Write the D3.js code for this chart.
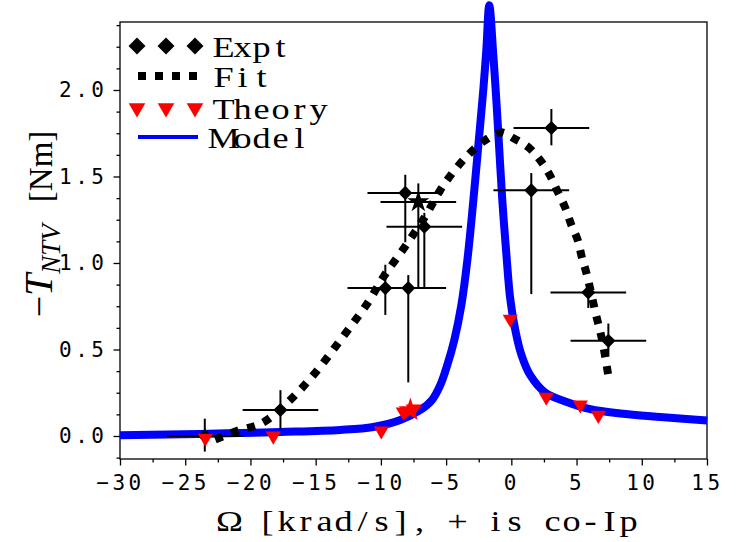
<!DOCTYPE html>
<head>
<meta charset="utf-8">
<title>NTV torque vs rotation</title>
<style>
  body { margin: 0; background: #fff; }
  .axis .tick text { font-family: "DejaVu Sans Mono", monospace; font-size: 21px; letter-spacing: 3.5px; fill: #000; }
  .axis .tick line { stroke: #000; stroke-width: 1.3; }
  .lab { font-family: "Liberation Serif", serif; font-size: 29px; fill: #000; }
</style>
</head>
<body>
<svg width="740" height="542"></svg>
<script src="https://d3js.org/d3.v7.min.js"></script>
<script>
// experiment points (diamonds) with error bars
var exptX  = [-23.5, -17.7, -9.66, -7.9, -8.13, -6.67, 1.53, 3.07, 5.9, 7.44];
var exptY  = [0.0, 0.15, 0.855, 0.855, 1.405, 1.21, 1.42, 1.78, 0.83, 0.55];
var exptLo = [-0.09, 0.035, 0.70, 0.31, 1.12, 0.855, 0.82, 1.68, 0.74, 0.46];
var exptHi = [0.10, 0.265, 0.99, 0.93, 1.51, 1.29, 1.52, 1.89, 0.88, 0.65];
var exptDx = [2.9, 2.9, 2.9, 2.9, 2.9, 2.9, 2.9, 2.9, 2.9, 2.9];

// the one starred experiment point
var starX = [-7.13], starY = [1.353], starLo = [0.855], starHi = [1.46], starDx = [2.9];

// fit (dotted)
var fitX = [-22.7, -21.0, -19.1, -17.2, -15.2, -12.7, -11.0, -9.8, -8.1, -6.6, -5.2, -3.5, -2.0, -0.8,
            0.2, 1.3, 2.2, 2.9, 3.5, 4.1, 4.6, 5.1, 5.4, 5.8, 6.4, 7.0, 7.45];
var fitY = [-0.02, 0.03, 0.075, 0.19, 0.35, 0.595, 0.77, 0.92, 1.10, 1.27, 1.45, 1.61, 1.71, 1.755,
            1.72, 1.67, 1.595, 1.515, 1.42, 1.325, 1.22, 1.13, 1.035, 0.93, 0.73, 0.54, 0.34];

// theory (red triangles) + red star
var theoX = [-23.46, -18.25, -9.97, -8.28, -7.51, -0.08, 2.68, 5.29, 6.67];
var theoY = [-0.012, 0.0, 0.03, 0.14, 0.156, 0.676, 0.225, 0.18, 0.12];
var theoStarX = [-7.74], theoStarY = [0.15];

// model (blue)
var modelX = [-30, -23.84, -17.71, -13.11, -10.58, -8.51, -6.98, -6.06, -5.44, -4.91, -4.37, -3.83, -3.37,
              -2.91, -2.53, -2.15, -1.92, -1.69, -1.38, -1.15, -0.92, -0.69, -0.38, -0.08, 0.31, 0.77,
              1.46, 2.61, 4.14, 6.06, 8.36, 11.42, 15.0];
var modelY = [0.005, 0.012, 0.023, 0.035, 0.052, 0.092, 0.15, 0.21, 0.295, 0.41, 0.555, 0.757, 1.017,
              1.364, 1.68, 2.0, 2.23, 2.49, 2.20, 1.94, 1.65, 1.36, 1.05, 0.79, 0.61, 0.47,
              0.35, 0.25, 0.20, 0.155, 0.13, 0.11, 0.09];

var xTicks = [-30, -25, -20, -15, -10, -5, 0, 5, 10, 15];
var yTicks = [0, 0.5, 1.0, 1.5, 2.0];
var legendNames = ["Expt", "Fit", "Theory", "Model"];
var xTitle = "Ω [krad/s], + is co-Ip";

var svg = d3.select("svg");
var pLeft = 120, pRight = 707, pTop = 22, pBottom = 459;

var x = d3.scaleLinear().domain([-30, 15]).range([pLeft, pRight]);
var y = d3.scaleLinear().domain([-0.133, 2.393]).range([pBottom, pTop]);

// fixed-pitch text: one glyph per cell, glyphs stretched a little like a typewriter face
function monoText(g, str, x0, yb, cell, sx) {
    var xs = str.split("").map(function(c, i) { return cell * (i + 0.5) / sx; });
    return g.append("text")
        .attr("class", "lab")
        .attr("transform", "translate(" + x0 + "," + yb + ") scale(" + sx + ",1)")
        .attr("x", xs.join(" "))
        .attr("y", 0)
        .attr("text-anchor", "middle")
        .text(str);
}

// minor ticks
svg.append("g").attr("class", "axis")
    .attr("transform", "translate(0," + pBottom + ")")
    .call(d3.axisBottom(x).tickValues(d3.range(-27.5, 15, 5)).tickSize(3.5).tickFormat(""))
    .select(".domain").remove();
svg.append("g").attr("class", "axis")
    .attr("transform", "translate(" + pLeft + ",0)")
    .call(d3.axisLeft(y).tickValues(d3.range(-0.125, 2.4, 0.125).filter(function(v) { return Math.abs(v / 0.5 - Math.round(v / 0.5)) > 1e-6; }))
        .tickSize(3.5).tickFormat(""))
    .select(".domain").remove();

// major ticks
svg.append("g").attr("class", "axis")
    .attr("transform", "translate(0," + pBottom + ")")
    .call(d3.axisBottom(x).tickValues(xTicks).tickSize(6.5).tickPadding(10))
    .select(".domain").remove();
svg.append("g").attr("class", "axis")
    .attr("transform", "translate(" + pLeft + ",0)")
    .call(d3.axisLeft(y).tickValues(yTicks).tickSize(6.5).tickPadding(6).tickFormat(d3.format(".1f")))
    .select(".domain").remove();

svg.append("rect")
    .attr("x", pLeft).attr("y", pTop)
    .attr("width", pRight - pLeft).attr("height", pBottom - pTop)
    .attr("fill", "none").attr("stroke", "#000").attr("stroke-width", 1.3);

// model
var modelData = modelX.map(function(d, i) { return [d, modelY[i]]; });
svg.append("path")
    .datum(modelData)
    .attr("fill", "none")
    .attr("stroke", "#0000ff")
    .attr("stroke-width", 8)
    .attr("stroke-linejoin", "round")
    .attr("d", d3.line().curve(d3.curveCatmullRom.alpha(0.5))
        .x(function(d) { return x(d[0]); }).y(function(d) { return y(d[1]); }));

// fit
var fitData = fitX.map(function(d, i) { return [d, fitY[i]]; });
svg.append("path")
    .datum(fitData)
    .attr("fill", "none")
    .attr("stroke", "#000")
    .attr("stroke-width", 8)
    .attr("stroke-dasharray", "8,9")
    .attr("d", d3.line().curve(d3.curveCatmullRom).x(function(d) { return x(d[0]); }).y(function(d) { return y(d[1]); }));

// error bars
function errorBars(xs, ys, lo, hi, dx) {
    var g = svg.append("g").attr("stroke", "#000").attr("stroke-width", 2);
    xs.forEach(function(xv, i) {
        g.append("line").attr("x1", x(xv - dx[i])).attr("x2", x(xv + dx[i]))
            .attr("y1", y(ys[i])).attr("y2", y(ys[i]));
        g.append("line").attr("x1", x(xv)).attr("x2", x(xv))
            .attr("y1", y(lo[i])).attr("y2", y(hi[i]));
    });
}
errorBars(exptX, exptY, exptLo, exptHi, exptDx);
errorBars(starX, starY, starLo, starHi, starDx);

var diamond = d3.symbol().type(d3.symbolSquare).size(100);
svg.append("g").selectAll("path")
    .data(exptX)
    .enter().append("path")
        .attr("d", diamond)
        .attr("fill", "#000")
        .attr("transform", function(d, i) { return "translate(" + x(d) + "," + y(exptY[i]) + ") rotate(45)"; });

svg.append("path")
    .attr("d", d3.symbol().type(d3.symbolStar).size(150))
    .attr("fill", "#000")
    .attr("transform", "translate(" + x(starX[0]) + "," + y(starY[0]) + ")");

// theory
var tri = d3.symbol().type(d3.symbolTriangle).size(100);
svg.append("g").selectAll("path")
    .data(theoX)
    .enter().append("path")
        .attr("d", tri)
        .attr("fill", "#ff0000")
        .attr("transform", function(d, i) { return "translate(" + x(d) + "," + y(theoY[i]) + ") rotate(180)"; });

svg.append("path")
    .attr("d", d3.symbol().type(d3.symbolStar).size(180))
    .attr("fill", "#ff0000")
    .attr("transform", "translate(" + x(theoStarX[0]) + "," + y(theoStarY[0]) + ")");

// legend
var leg = svg.append("g");
var legY = [46, 76, 108, 137];
var legSymX = [137, 166, 195];
legSymX.forEach(function(sx) {
    leg.append("path").attr("d", d3.symbol().type(d3.symbolSquare).size(144)())
        .attr("fill", "#000")
        .attr("transform", "translate(" + sx + "," + legY[0] + ") rotate(45)");
    leg.append("path").attr("d", d3.symbol().type(d3.symbolTriangle).size(120)())
        .attr("fill", "#ff0000")
        .attr("transform", "translate(" + sx + "," + legY[2] + ") rotate(180)");
});
leg.append("line").attr("x1", 138).attr("x2", 198).attr("y1", legY[1]).attr("y2", legY[1])
    .attr("stroke", "#000").attr("stroke-width", 8).attr("stroke-dasharray", "8,9");
leg.append("line").attr("x1", 138).attr("x2", 198).attr("y1", legY[3]).attr("y2", legY[3])
    .attr("stroke", "#0000ff").attr("stroke-width", 4);
legendNames.forEach(function(name, i) {
    monoText(leg, name, 214, legY[i] + 11, 19, 1.25);
});

// axis titles
monoText(svg, xTitle, 220, 531, 19, 1.25);

var yl = svg.append("text")
    .attr("transform", "translate(52,224) rotate(-90)")
    .attr("text-anchor", "middle")
    .attr("font-family", "Liberation Serif, serif")
    .attr("fill", "#000");
yl.append("tspan").attr("font-size", 38).text("−");
yl.append("tspan").attr("font-size", 40).attr("font-style", "italic").text("T");
yl.append("tspan").attr("font-size", 27).attr("font-style", "italic").attr("dy", 8).text("NTV");
yl.append("tspan").attr("font-size", 33).attr("dy", -8).attr("dx", 22).text("[Nm]");
</script>
</body>
